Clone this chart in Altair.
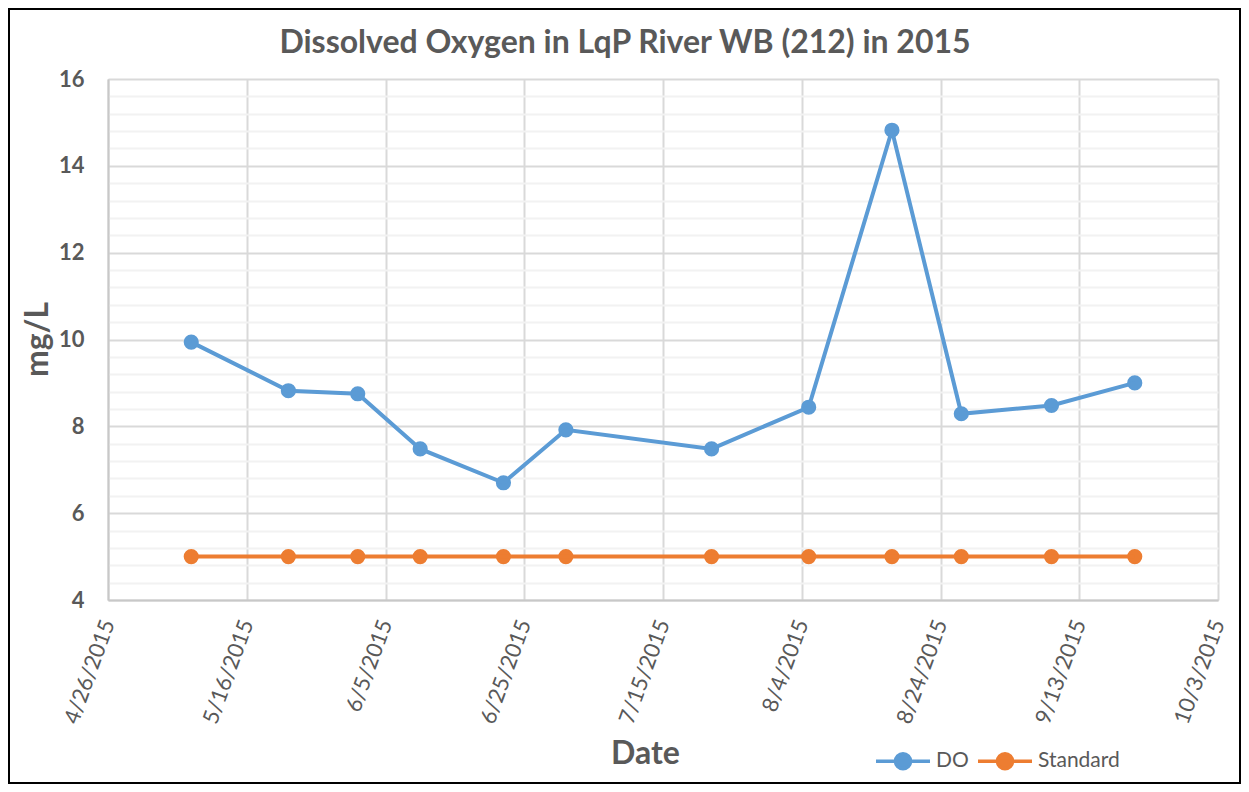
import altair as alt
import pandas as pd

# ---- data ----
dates = ["2015/05/08", "2015/05/22", "2015/06/01", "2015/06/10", "2015/06/22", "2015/07/01",
         "2015/07/22", "2015/08/05", "2015/08/17", "2015/08/27", "2015/09/09", "2015/09/21"]
do_values = [9.94, 8.82, 8.75, 7.48, 6.70, 7.92, 7.48, 8.44, 14.82, 8.29, 8.48, 9.00]
standard_values = [5, 5, 5, 5, 5, 5, 5, 5, 5, 5, 5, 5]
series_names = ["DO", "Standard"]
series_colors = ["#5B9BD5", "#ED7D31"]
x_tick_dates = ["2015/04/26", "2015/05/16", "2015/06/05", "2015/06/25", "2015/07/15",
                "2015/08/04", "2015/08/24", "2015/09/13", "2015/10/03"]
y_major_ticks = [4, 6, 8, 10, 12, 14, 16]
y_minor_ticks = [4.4, 4.8, 5.2, 5.6, 6.4, 6.8, 7.2, 7.6, 8.4, 8.8, 9.2, 9.6,
                 10.4, 10.8, 11.2, 11.6, 12.4, 12.8, 13.2, 13.6, 14.4, 14.8, 15.2, 15.6]

title_text = "Dissolved Oxygen in LqP River WB (212) in 2015"
TXT = "#595959"
FONT = "Lato"

rows = []
for d, v in zip(dates, do_values):
    rows.append({"Date": d, "Value": v, "Series": series_names[0]})
for d, v in zip(dates, standard_values):
    rows.append({"Date": d, "Value": v, "Series": series_names[1]})
df = pd.DataFrame(rows)


def dt(s):
    t = pd.Timestamp(s)
    return alt.DateTime(year=t.year, month=t.month, date=t.day)


x_values = [dt(s) for s in x_tick_dates]
x_scale = alt.Scale(domain=[x_values[0], x_values[-1]], nice=False)
y_scale = alt.Scale(domain=[4, 16], nice=False, zero=False)
color_scale = alt.Scale(domain=series_names, range=series_colors)

legend_path = "M-1,0L1,0M0.28,0A0.28,0.28,0,1,1,-0.28,0A0.28,0.28,0,1,1,0.28,0Z"

base = alt.Chart(df)

lines = base.mark_line(strokeWidth=4).encode(
    x=alt.X("Date:T", scale=x_scale,
            axis=alt.Axis(values=x_values, format="%-m/%-d/%Y", labelAngle=-70,
                          labelAlign="right", labelBaseline="middle", labelPadding=20,
                          labelFontSize=22, labelFont=FONT, labelColor=TXT,
                          labelOverlap=False, labelFlush=False, ticks=False,
                          grid=True, gridColor="#d9d9d9", gridWidth=2,
                          domainColor="#c8c8c8", domainWidth=2,
                          title="Date", titleFont=FONT, titleFontSize=32,
                          titleFontWeight="bold", titleColor=TXT,
                          titleX=537, titleY=163, titleAlign="center",
                          titleBaseline="alphabetic")),
    y=alt.Y("Value:Q", scale=y_scale,
            axis=alt.Axis(values=y_major_ticks, orient="left", ticks=False,
                          labelPadding=24, labelFontSize=22, labelFont=FONT,
                          labelFontWeight="bold", labelColor=TXT,
                          grid=True, gridColor="#d9d9d9", gridWidth=2,
                          domainColor="#c8c8c8", domainWidth=2,
                          title="mg/L", titleFont=FONT, titleFontSize=32,
                          titleFontWeight="bold", titleColor=TXT,
                          titleX=-71, titleY=260, titleAngle=270,
                          titleAlign="center", titleBaseline="middle")),
    color=alt.Color("Series:N", scale=color_scale,
                    legend=alt.Legend(orient="none", legendX=766, legendY=653,
                                      direction="horizontal", title=None,
                                      symbolType=legend_path, symbolSize=2916,
                                      symbolStrokeWidth=3.5, labelFontSize=21,
                                      labelFont=FONT, labelColor=TXT,
                                      labelOffset=4, columnPadding=2)),
    detail="Series:N",
)

points = base.mark_circle(size=230, opacity=1).encode(
    x=alt.X("Date:T", scale=x_scale),
    y=alt.Y("Value:Q", scale=y_scale,
            axis=alt.Axis(values=y_minor_ticks, orient="left", labels=False,
                          ticks=False, domain=False, title=None,
                          grid=True, gridColor="#f2f2f2", gridWidth=2)),
    color=alt.Color("Series:N", scale=color_scale),
)

frame = alt.Chart(alt.Data(values=[{"k": 1}])).mark_rect(
    filled=False, stroke="black", strokeWidth=2
).encode(x=alt.value(-99), x2=alt.value(1132), y=alt.value(-70), y2=alt.value(704))

chart = alt.layer(points, lines, frame).resolve_axis(y="independent").properties(
    width=1110,
    height=521,
    autosize=alt.AutoSizeParams(type="none"),
    padding={"left": 100, "top": 71, "right": 23, "bottom": 184},
    title=alt.TitleParams(title_text, font=FONT, fontSize=32, fontWeight="bold",
                          color=TXT, anchor="middle", dx=-38,
                          baseline="alphabetic", offset=-77),
).configure_view(stroke=None).configure(background="white")

chart.save("out.html", embed_options={"renderer": "svg", "actions": False})
